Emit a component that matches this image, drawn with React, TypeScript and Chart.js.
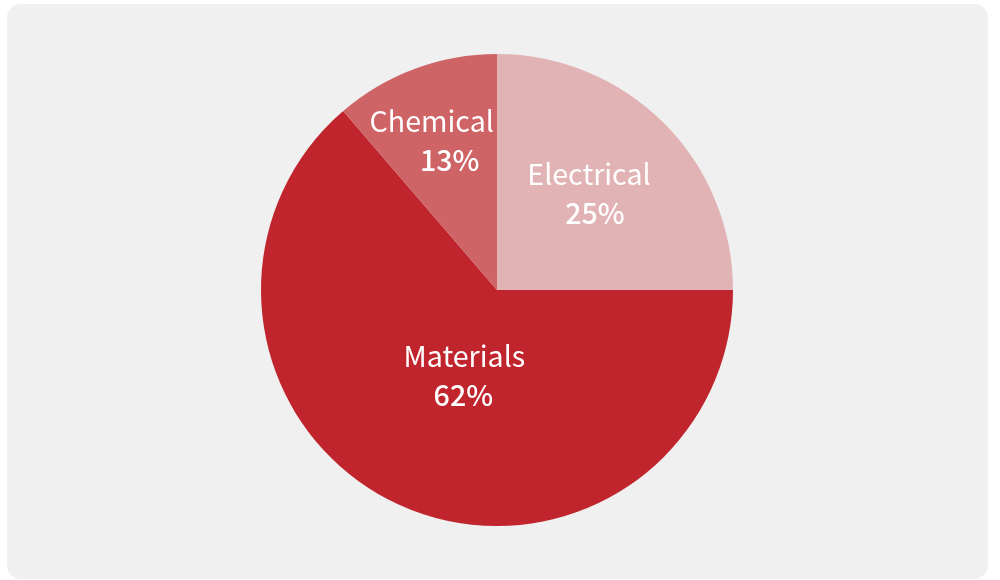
import React, { useEffect, useRef } from "react";
import { Chart, registerables } from "chart.js";

Chart.register(...registerables);

const categories = ["Electrical", "Materials", "Chemical"];
// slice sizes as drawn in the picture
const shares = [25, 63.7, 11.3];
// percentages as printed on the slices
const shareLabels = ["25%", "62%", "13%"];
const sliceColors = ["#e2b3b5", "#c0252d", "#cf6467"];
// label anchor as fraction of radius along the slice's mid angle, plus per-line x nudges
const labelRadius = [0.575, 0.403, 0.674];
const nameNudgeX = [-4, 7, -10];
const pctNudgeX = [2, 6, 8];

const FONT = "'Noto Sans CJK JP', 'Noto Sans', sans-serif";

const labelPlugin = {
  id: "sliceLabels",
  afterDatasetsDraw(chart: any) {
    const ctx = chart.ctx;
    const meta = chart.getDatasetMeta(0);
    ctx.save();
    ctx.fillStyle = "#ffffff";
    ctx.textAlign = "center";
    ctx.textBaseline = "middle";
    meta.data.forEach((arc: any, i: number) => {
      const p = arc.getProps(["x", "y", "startAngle", "endAngle", "outerRadius"], true);
      const mid = (p.startAngle + p.endAngle) / 2;
      const r = p.outerRadius * labelRadius[i];
      const ax = p.x + Math.cos(mid) * r;
      const ay = p.y + Math.sin(mid) * r;
      ctx.font = `400 28.6px ${FONT}`;
      ctx.fillText(categories[i], ax + nameNudgeX[i], ay - 20);
      ctx.font = `500 28.6px ${FONT}`;
      ctx.fillText(shareLabels[i], ax + pctNudgeX[i], ay + 19);
    });
    ctx.restore();
  },
};

export default function App() {
  const ref = useRef<HTMLCanvasElement>(null);
  useEffect(() => {
    document.body.style.margin = "0";
    const chart = new Chart(ref.current!, {
      type: "pie",
      data: {
        labels: categories,
        datasets: [
          {
            data: shares,
            backgroundColor: sliceColors,
            borderWidth: 0,
          },
        ],
      },
      options: {
        animation: false,
        responsive: true,
        maintainAspectRatio: false,
        layout: { padding: { top: 54, bottom: 54, left: 0, right: 6 } },
        plugins: {
          legend: { display: false },
          tooltip: { enabled: false },
        },
      },
      plugins: [labelPlugin],
    });
    return () => chart.destroy();
  }, []);
  return (
    <div style={{ position: "relative", width: 1000, height: 580, background: "#ffffff" }}>
      <div
        style={{
          position: "absolute",
          left: 7,
          top: 4,
          width: 981,
          height: 575,
          borderRadius: 14,
          background: "#f0f0f0",
        }}
      />
      <div style={{ position: "absolute", left: 0, top: 0, width: 1000, height: 580 }}>
        <canvas ref={ref} />
      </div>
    </div>
  );
}
